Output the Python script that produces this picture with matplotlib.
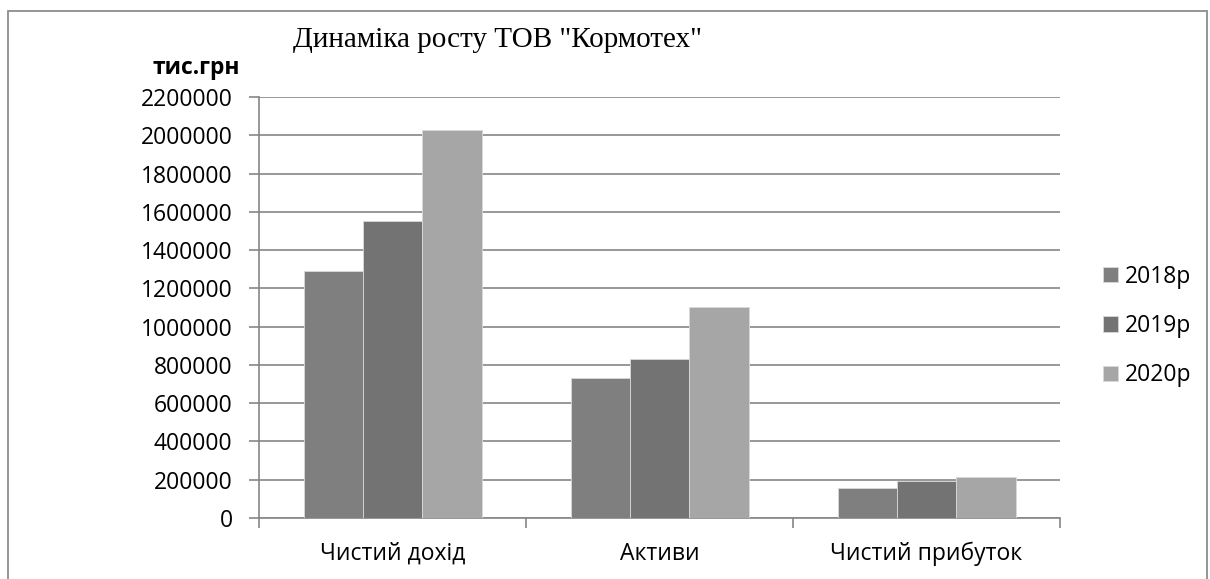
import numpy as np
import matplotlib.pyplot as plt
from matplotlib.patches import Rectangle

categories = ["Чистий дохід", "Активи", "Чистий прибуток"]
years = ["2018р", "2019р", "2020р"]
v2018 = [1290000, 733000, 157000]
v2019 = [1552000, 832000, 193000]
v2020 = [2030000, 1103000, 216000]
colors = ["#7f7f7f", "#737373", "#a6a6a6"]

plt.rcParams['font.family'] = ['Open Sans', 'DejaVu Sans']

fig = plt.figure(figsize=(12.1, 5.79), dpi=100)
ax = fig.add_axes([259 / 1210, 1 - 518 / 579, (1060 - 259) / 1210, (518 - 97) / 579])

# outer chart frame (bottom edge is cut off in the original)
fig.patches.append(Rectangle((8 / 1210, -0.1), (1207 - 8) / 1210, 1.1 - 11 / 579,
                             transform=fig.transFigure, fill=False,
                             edgecolor="#8c8c8c", lw=1.3))

x = np.arange(len(categories))
w = 1 / 4.5
for i, (vals, c, lab) in enumerate(zip([v2018, v2019, v2020], colors, years)):
    ax.bar(x + (i - 1) * w, vals, width=w, color=c, edgecolor="#d9d9d9",
           linewidth=0.6, label=lab, zorder=3)

ax.set_xlim(-0.5, 2.5)
ax.set_ylim(0, 2200000)
yt = np.arange(0, 2200001, 200000)
ax.set_yticks(yt)
ax.set_yticklabels([str(v) for v in yt])
ax.yaxis.grid(True, color="#868686", lw=1.2, zorder=0)

ax.set_xticks(x)
ax.set_xticklabels(categories)
ax.set_xticks([-0.5, 0.5, 1.5, 2.5], minor=True)
ax.tick_params(axis='x', which='major', length=0, pad=17, labelsize=16.5)
ax.tick_params(axis='x', which='minor', length=7, width=1.2, color="#868686")
ax.tick_params(axis='y', length=7, width=1.2, color="#868686", pad=12, labelsize=16.5)

for s in ["top", "right"]:
    ax.spines[s].set_visible(False)
for s in ["left", "bottom"]:
    ax.spines[s].set_color("#868686")
    ax.spines[s].set_linewidth(1.2)

fig.text(293 / 1210, 1 - 47 / 579, 'Динаміка росту ТОВ "Кормотех"',
         family=['Liberation Serif', 'DejaVu Serif'], fontsize=21, va='baseline', ha='left')
fig.text(240 / 1210, 1 - 74 / 579, "тис.грн", fontsize=16.5, fontweight='bold',
         ha='right', va='baseline')

ax.legend(loc='center left', bbox_to_anchor=(1103 / 1210, 1 - 326 / 579),
          bbox_transform=fig.transFigure, frameon=False, fontsize=16.5,
          handlelength=0.65, handleheight=0.65, handletextpad=0.3,
          labelspacing=1.1, borderpad=0, borderaxespad=0)

fig.savefig("out.png", dpi=100)
